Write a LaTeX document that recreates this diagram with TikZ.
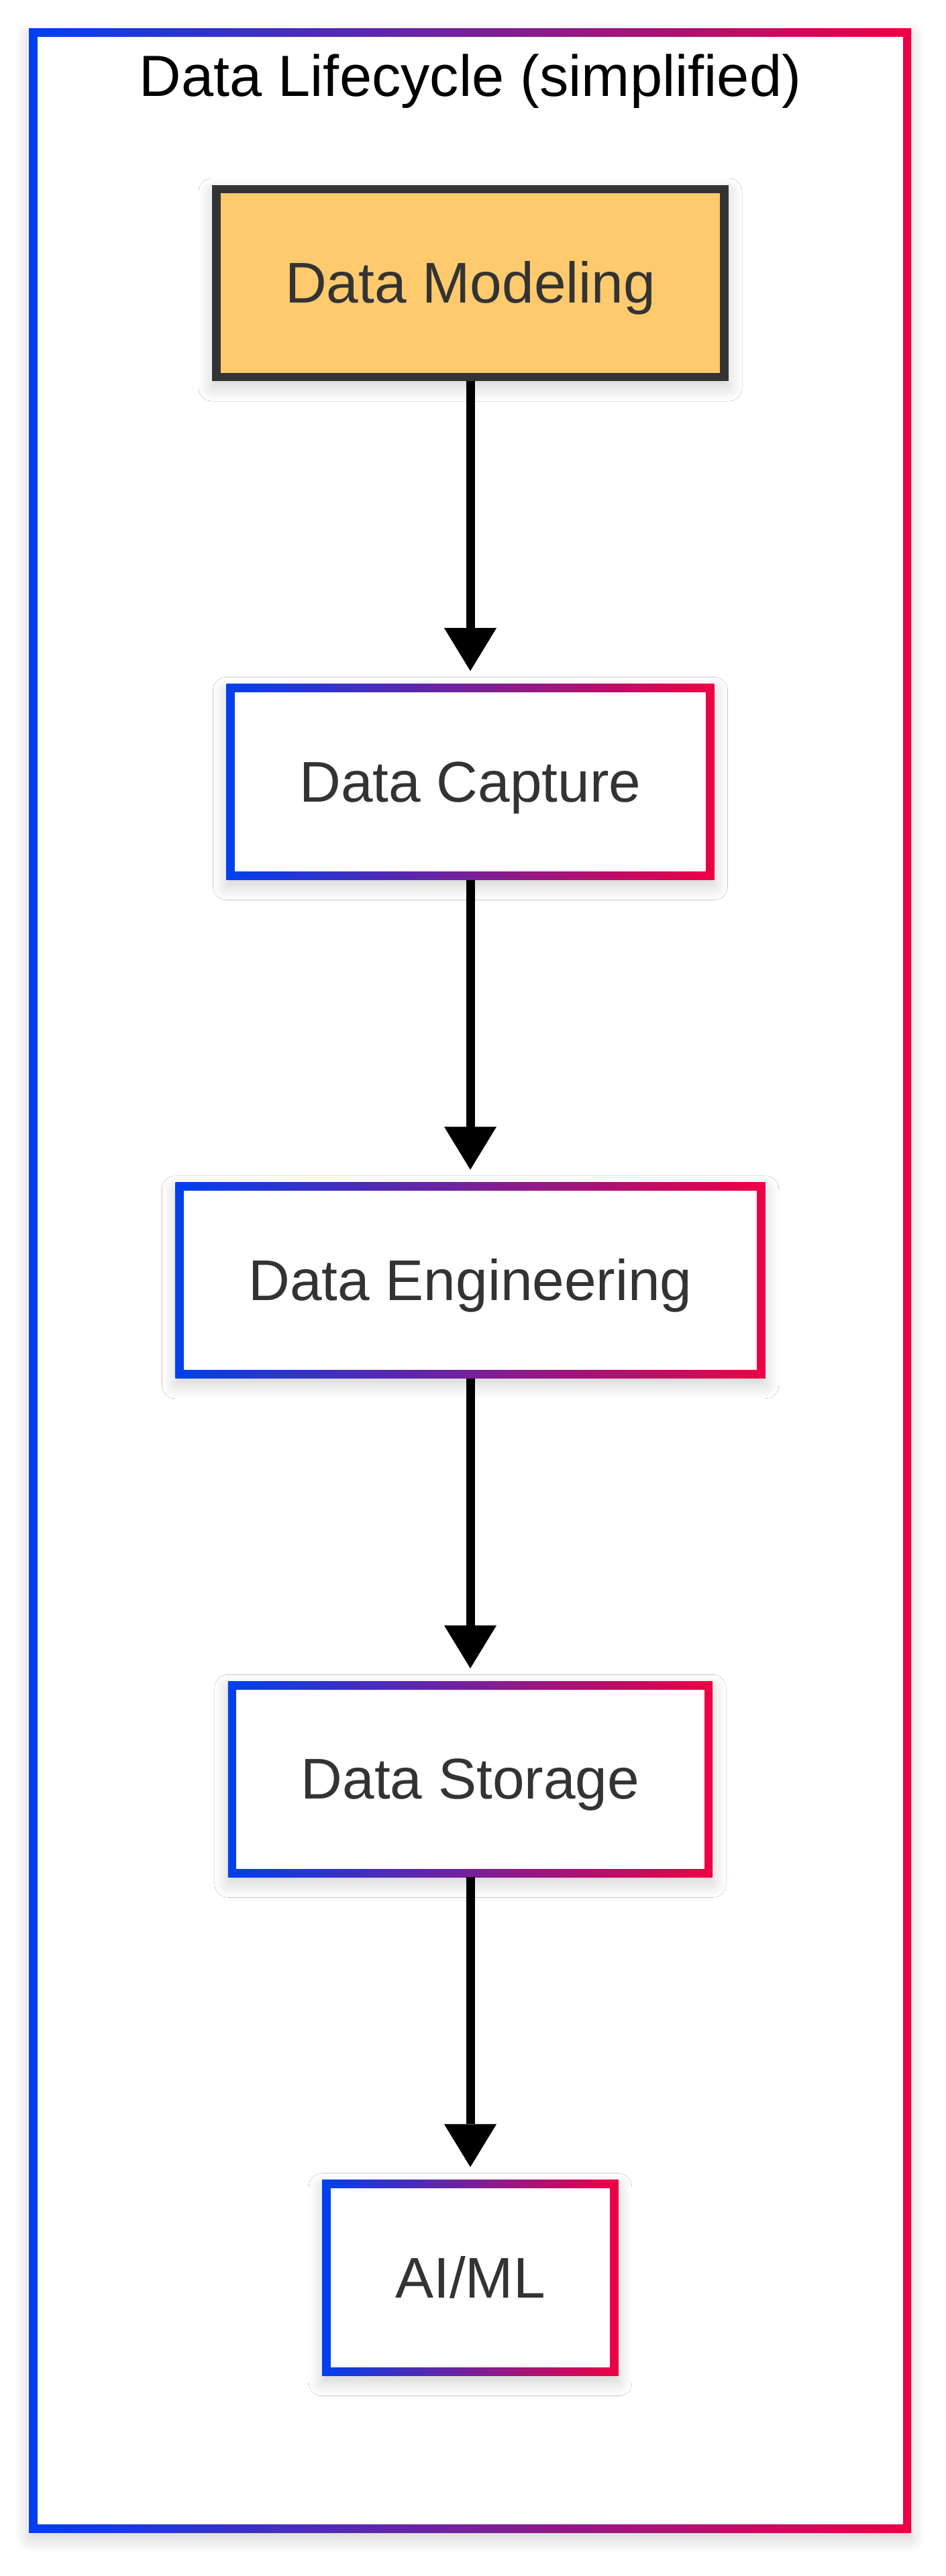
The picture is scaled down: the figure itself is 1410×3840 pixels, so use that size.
\documentclass[tikz,border=0pt]{standalone}
\usepackage{fontspec}
\setmainfont{Liberation Sans}
\usepackage{tikz}
\usetikzlibrary{arrows.meta,positioning,shadows.blur}
\definecolor{lcblue}{RGB}{0,64,238}
\definecolor{lcred}{RGB}{238,0,68}
\definecolor{lcdark}{RGB}{51,51,51}
\definecolor{lcyellow}{RGB}{255,202,110}
\newcommand{\stagefont}{\fontsize{85.6pt}{100pt}\selectfont}
\newcommand{\titlefont}{\fontsize{86.6pt}{100pt}\selectfont}
\tikzset{core/.style={path picture={\fill[#1] ([shift={(12.5pt,12.5pt)}]path picture bounding box.south west) rectangle ([shift={(-12.5pt,-12.5pt)}]path picture bounding box.north east);}}}
\tikzstyle{flow} = [line width=13pt, -{Triangle[width=78pt,length=64pt,line width=0pt]}, shorten >=19pt, color=black]
\tikzstyle{softshadow} = [blur shadow={shadow xshift=0pt, shadow yshift=-10pt, shadow blur radius=20pt, shadow blur steps=20, shadow opacity=18}]
\tikzstyle{stage} = [rectangle, minimum height=292pt, inner xsep=109pt, inner ysep=0pt, text height=77.5pt, text depth=18.1pt, font=\stagefont, text=lcdark, softshadow]
\tikzstyle{gradstage} = [stage, left color=lcblue, right color=lcred, core=white]

\begin{document}
\begin{tikzpicture}[x=1pt, y=1pt, node distance=451pt]
\useasboundingbox (0,0) rectangle (1410,-3840);
% Outer frame
\path[left color=lcblue, right color=lcred, core=white, softshadow] (43,-43) rectangle (1358,-3775);
\node (title) [anchor=base, font=\titlefont] at (701,-144) {Data Lifecycle (simplified)};

% Stages
\node (modeling) [stage, fill=lcdark, core=lcyellow] at (701,-422) {Data Modeling};
\node (capture) [gradstage, below=of modeling] {Data Capture};
\node (engineering) [gradstage, below=of capture] {Data Engineering};
\node (storage) [gradstage, below=of engineering] {Data Storage};
\node (aiml) [gradstage, below=of storage] {AI/ML};

% Flow
\foreach \from/\to in {modeling/capture, capture/engineering, engineering/storage, storage/aiml}
  \draw[flow] (\from) -- (\to);
\end{tikzpicture}
\end{document}
